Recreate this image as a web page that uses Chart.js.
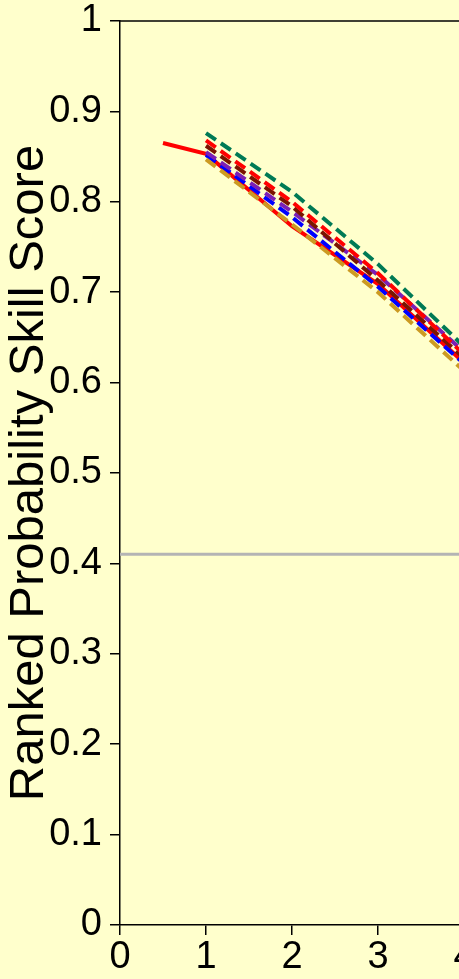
<!DOCTYPE html>
<html>
<head>
<meta charset="utf-8">
<script src="https://cdn.jsdelivr.net/npm/chart.js@4/dist/chart.umd.min.js"></script>
<style>
  html, body { margin: 0; padding: 0; background: #ffffcc; overflow: hidden; }
  #wrap { position: absolute; left: 0; top: 0; width: 1000px; height: 979px; }
</style>
</head>
<body>
<div id="wrap"><canvas id="c" width="1000" height="979"></canvas></div>
<script>
// Lead time (x) values
const leadTimes = [1, 2, 3, 4];
const leadTimesObs = [0.5, 1, 2, 3, 4];

// Ranked probability skill score per configuration
const rpssGreen   = [0.876, 0.811, 0.731, 0.640];
const rpssRed     = [0.868, 0.800, 0.721, 0.631];
const rpssDarkRed = [0.862, 0.795, 0.713, 0.627];
const rpssPurple  = [0.855, 0.789, 0.719, 0.634];
const rpssBlue    = [0.852, 0.783, 0.706, 0.621];
const rpssGold    = [0.847, 0.775, 0.700, 0.613];
const rpssSolid   = [0.865, 0.853, 0.773, 0.709, 0.622];

// Reference skill level
const referenceLevel = 0.41;

// Axis ticks
const yTickValues = [0, 0.1, 0.2, 0.3, 0.4, 0.5, 0.6, 0.7, 0.8, 0.9, 1];
const yTickLabels = ['0', '0.1', '0.2', '0.3', '0.4', '0.5', '0.6', '0.7', '0.8', '0.9', '1'];
const xMin = 0, xMax = 10;

const pts = (xs, ys) => xs.map((x, i) => ({ x: x, y: ys[i] }));

const dashed = (label, color, ys) => ({
  label, data: pts(leadTimes, ys), borderColor: color, borderWidth: 4,
  borderDash: [12, 6], pointRadius: 0, fill: false, tension: 0
});

const FONT = '"Liberation Sans", Arial, sans-serif';

const yTitlePlugin = {
  id: 'yTitle',
  afterDraw(chart) {
    const { ctx, chartArea } = chart;
    ctx.save();
    // top frame line
    ctx.strokeStyle = '#000';
    ctx.lineWidth = 1.5;
    ctx.beginPath();
    ctx.moveTo(chartArea.left, chartArea.top);
    ctx.lineTo(chartArea.right, chartArea.top);
    ctx.stroke();
    // rotated axis title
    ctx.translate(chartArea.left - 77, (chartArea.top + chartArea.bottom) / 2);
    ctx.rotate(-Math.PI / 2);
    ctx.fillStyle = '#000';
    ctx.font = '49px ' + FONT;
    ctx.textAlign = 'center';
    ctx.textBaseline = 'alphabetic';
    ctx.fillText('Ranked Probability Skill Score', 0, 0);
    ctx.restore();
  }
};

new Chart(document.getElementById('c'), {
  type: 'line',
  data: {
    datasets: [
      { label: 'reference', data: [{ x: xMin, y: referenceLevel }, { x: xMax, y: referenceLevel }],
        borderColor: '#b4b4b4', borderWidth: 3, pointRadius: 0, fill: false },
      dashed('green', '#007a55', rpssGreen),
      dashed('red', '#ff0000', rpssRed),
      dashed('darkred', '#7a1500', rpssDarkRed),
      dashed('purple', '#7c1fb4', rpssPurple),
      dashed('gold', '#cc9a22', rpssGold),
      dashed('blue', '#0000ff', rpssBlue),
      { label: 'solid', data: pts(leadTimesObs, rpssSolid), borderColor: '#ff0000',
        borderWidth: 4, pointRadius: 0, fill: false, tension: 0 }
    ]
  },
  options: {
    responsive: false,
    animation: false,
    layout: { padding: { left: 0, top: 21, right: 20, bottom: 0 } },
    plugins: { legend: { display: false }, tooltip: { enabled: false }, title: { display: false } },
    scales: {
      x: {
        type: 'linear', min: xMin, max: xMax,
        afterFit(s) { s.height = 54; s.paddingLeft = 0; s.paddingRight = 0; },
        ticks: { stepSize: 1, color: '#000', font: { family: FONT, size: 38 }, padding: 0, maxRotation: 0 },
        grid: { drawOnChartArea: false, drawTicks: true, tickLength: 10, color: '#000', lineWidth: 1.5 },
        border: { display: true, color: '#000', width: 1.5 }
      },
      y: {
        type: 'linear', min: 0, max: 1,
        afterFit(s) { s.width = 120; s.paddingTop = 0; s.paddingBottom = 0; },
        afterBuildTicks(s) { s.ticks = yTickValues.map(v => ({ value: v })); },
        ticks: {
          color: '#000', font: { family: FONT, size: 38 }, padding: 8,
          callback: (v) => yTickLabels[yTickValues.findIndex(t => Math.abs(t - v) < 1e-9)]
        },
        grid: { drawOnChartArea: false, drawTicks: true, tickLength: 10, color: '#000', lineWidth: 1.5 },
        border: { display: true, color: '#000', width: 1.5 }
      }
    }
  },
  plugins: [yTitlePlugin]
});
</script>
</body>
</html>
